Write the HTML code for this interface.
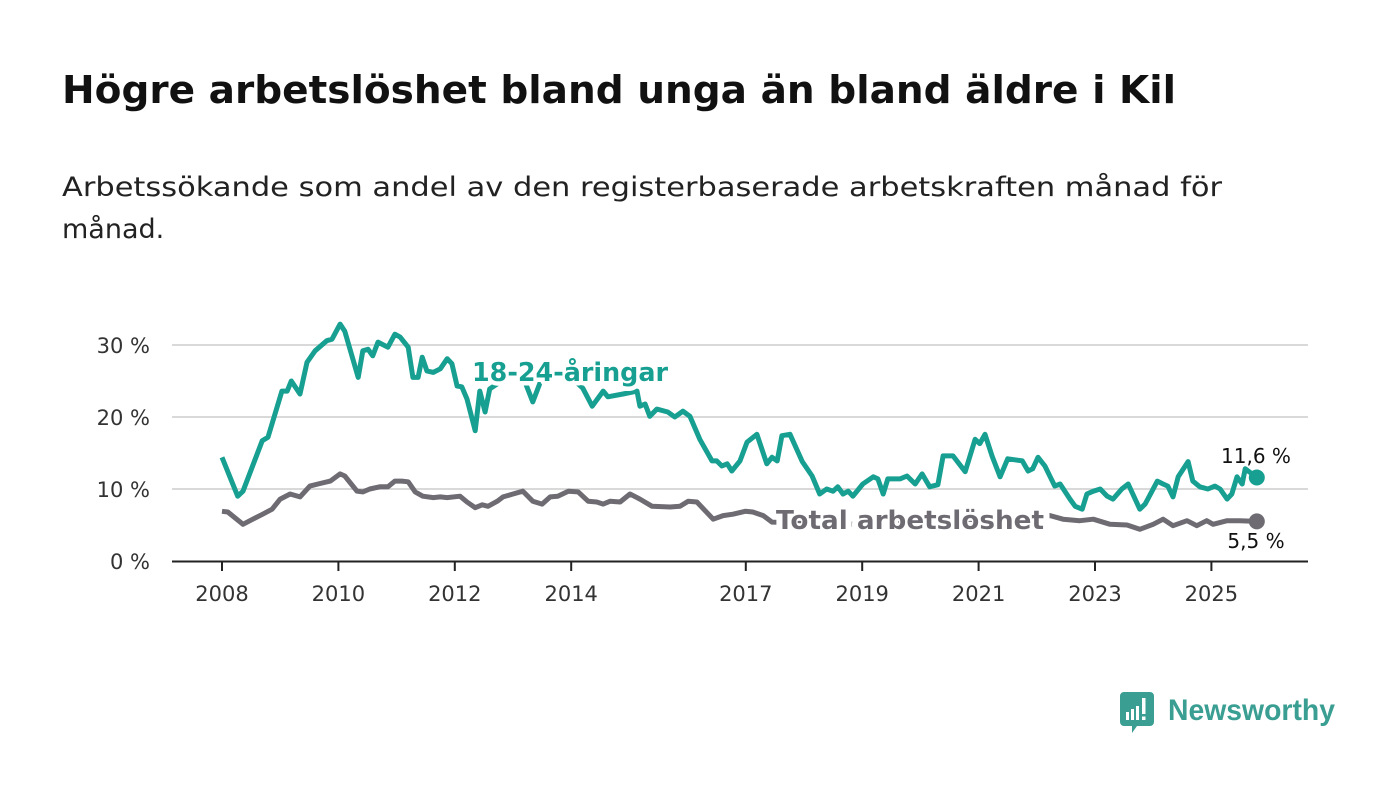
<!DOCTYPE html>
<html><head><meta charset="utf-8"><style>
html,body{margin:0;padding:0;background:#fff;}
svg{display:block;font-family:"DejaVu Sans","Liberation Sans",sans-serif;}
</style></head><body>
<svg id="chart" width="1400" height="794" viewBox="0 0 1400 794">
<text x="62" y="103" font-size="38" font-weight="bold" fill="#111" textLength="1114" lengthAdjust="spacingAndGlyphs">Högre arbetslöshet bland unga än bland äldre i Kil</text>
<text x="62" y="196" font-size="27" fill="#222" textLength="1160" lengthAdjust="spacingAndGlyphs">Arbetssökande som andel av den registerbaserade arbetskraften månad för</text>
<text x="62" y="238" font-size="27" fill="#222">månad.</text>
<g id="grid"></g>
<g id="xaxis"></g>
<g id="series"></g>
<g id="labels"></g>
<g>
<path d="M1124 692 h26 a4 4 0 0 1 4 4 v26 a4 4 0 0 1 -4 4 h-13 l-5 7 v-7 h-8 a4 4 0 0 1 -4 -4 v-26 a4 4 0 0 1 4 -4z" fill="#3a9e92"/>
<rect x="1126" y="712" width="3" height="8" fill="#fff"/><rect x="1131" y="709" width="3" height="11" fill="#fff"/><rect x="1136" y="706" width="3" height="14" fill="#fff"/><rect x="1142" y="698" width="3.5" height="16" fill="#fff"/><rect x="1142" y="716.5" width="3.5" height="3.5" fill="#fff"/>
<text x="1168" y="720" font-size="30" font-weight="bold" fill="#3a9e92" textLength="167" lengthAdjust="spacingAndGlyphs" style="font-family:'Liberation Sans',sans-serif">Newsworthy</text>
</g>
</svg>
<script>
const yTicks = [0, 10, 20, 30];
const yTickLabels = ["0 %", "10 %", "20 %", "30 %"];
const xTicks = [2008, 2010, 2012, 2014, 2017, 2019, 2021, 2023, 2025];
const youthDates = [2008.0,2008.27,2008.36,2008.69,2008.79,2009.03,2009.12,2009.19,2009.34,2009.46,2009.6,2009.8,2009.89,2010.03,2010.11,2010.34,2010.42,2010.51,2010.59,2010.68,2010.85,2010.97,2011.06,2011.2,2011.28,2011.37,2011.44,2011.52,2011.63,2011.75,2011.87,2011.95,2012.04,2012.12,2012.21,2012.35,2012.43,2012.52,2012.6,2012.8,2013.0,2013.2,2013.34,2013.5,2013.7,2014.0,2014.2,2014.36,2014.55,2014.63,2014.89,2015.13,2015.18,2015.27,2015.35,2015.47,2015.66,2015.78,2015.92,2016.04,2016.21,2016.42,2016.5,2016.59,2016.68,2016.76,2016.9,2017.02,2017.19,2017.36,2017.45,2017.54,2017.62,2017.76,2017.97,2018.14,2018.27,2018.39,2018.5,2018.58,2018.67,2018.76,2018.84,2019.01,2019.19,2019.27,2019.36,2019.44,2019.65,2019.77,2019.91,2020.03,2020.16,2020.3,2020.39,2020.56,2020.77,2020.94,2021.02,2021.11,2021.23,2021.37,2021.5,2021.75,2021.85,2021.93,2022.02,2022.14,2022.23,2022.31,2022.4,2022.57,2022.66,2022.78,2022.86,2022.97,2023.09,2023.21,2023.31,2023.46,2023.57,2023.65,2023.77,2023.86,2023.98,2024.07,2024.17,2024.25,2024.34,2024.43,2024.6,2024.68,2024.8,2024.94,2025.06,2025.15,2025.27,2025.35,2025.44,2025.53,2025.58,2025.78];
const youthValues = [14.4,9.0,9.7,16.7,17.2,23.6,23.6,25.0,23.2,27.6,29.2,30.6,30.8,32.9,31.9,25.5,29.2,29.4,28.5,30.4,29.7,31.5,31.1,29.7,25.5,25.5,28.3,26.4,26.2,26.7,28.1,27.4,24.3,24.2,22.5,18.1,23.6,20.7,23.9,25.0,26.0,25.0,22.1,25.5,26.0,25.5,24.0,21.5,23.6,22.8,23.2,23.6,21.5,21.8,20.1,21.1,20.7,20.0,20.8,20.1,16.9,13.9,13.9,13.2,13.5,12.5,13.9,16.5,17.6,13.5,14.4,13.9,17.4,17.6,13.8,11.8,9.3,10.0,9.7,10.3,9.3,9.7,9.0,10.7,11.7,11.4,9.3,11.4,11.4,11.8,10.7,12.1,10.3,10.6,14.6,14.6,12.4,16.9,16.3,17.6,14.6,11.7,14.2,13.9,12.5,12.8,14.4,13.2,11.7,10.4,10.7,8.6,7.6,7.2,9.3,9.7,10.0,9.0,8.6,10.0,10.7,9.3,7.2,7.9,9.7,11.1,10.7,10.4,8.9,11.7,13.8,11.1,10.3,10.0,10.4,10.0,8.6,9.3,11.7,10.7,12.8,11.6];
const totalDates = [2008.0,2008.1,2008.36,2008.53,2008.7,2008.86,2009.0,2009.17,2009.34,2009.51,2009.65,2009.86,2010.03,2010.11,2010.32,2010.42,2010.54,2010.71,2010.85,2010.97,2011.09,2011.2,2011.32,2011.45,2011.63,2011.75,2011.87,2012.09,2012.21,2012.35,2012.47,2012.57,2012.73,2012.83,2013.0,2013.17,2013.34,2013.5,2013.64,2013.77,2013.95,2014.12,2014.29,2014.44,2014.55,2014.67,2014.84,2015.01,2015.18,2015.39,2015.7,2015.87,2016.01,2016.16,2016.44,2016.61,2016.78,2016.99,2017.12,2017.3,2017.45,2018.0,2018.5,2019.0,2019.5,2020.0,2020.4,2020.8,2021.2,2021.6,2022.0,2022.23,2022.45,2022.74,2022.97,2023.26,2023.55,2023.77,2024.0,2024.17,2024.34,2024.58,2024.75,2024.92,2025.03,2025.27,2025.49,2025.78];
const totalValues = [6.9,6.8,5.1,5.8,6.5,7.2,8.6,9.3,8.9,10.4,10.7,11.1,12.1,11.8,9.7,9.6,10.0,10.3,10.3,11.1,11.1,11.0,9.6,9.0,8.8,8.9,8.8,9.0,8.2,7.4,7.8,7.6,8.3,8.9,9.3,9.7,8.3,7.9,8.9,9.0,9.7,9.6,8.3,8.2,7.9,8.3,8.2,9.3,8.6,7.6,7.5,7.6,8.3,8.2,5.8,6.3,6.5,6.9,6.8,6.3,5.4,5.3,5.0,5.2,5.5,5.6,5.8,5.8,5.7,5.6,5.8,6.3,5.8,5.6,5.8,5.1,5.0,4.4,5.1,5.8,4.9,5.6,4.9,5.6,5.1,5.6,5.6,5.5];

const NS = "http://www.w3.org/2000/svg";
const X0 = 172, X1 = 1308;
const xs = t => 222 + (t - 2008) * 58.2;
const ys = v => 561 - v * 7.2;
function mk(tag, attrs, parent, text) {
  const e = document.createElementNS(NS, tag);
  for (const k in attrs) e.setAttribute(k, attrs[k]);
  if (text !== undefined) e.textContent = text;
  parent.appendChild(e);
  return e;
}
const grid = document.getElementById('grid');
yTicks.forEach((v, i) => {
  if (v > 0) {
    const l = mk('line', {x1: X0, x2: X1, y1: ys(v), y2: ys(v), stroke: '#d9d9d9', 'stroke-width': 2}, grid);
    
    
  }
  const t = mk('text', {x: 150, y: ys(v) + 8, 'font-size': 21, fill: '#333', 'text-anchor': 'end'}, grid, yTickLabels[i]);
  
  
});
const xa = document.getElementById('xaxis');
const ax = mk('line', {x1: X0, x2: X1, y1: 561.5, y2: 561.5, stroke: '#222', 'stroke-width': 2}, xa);


xTicks.forEach(yr => {
  const tk = mk('line', {x1: xs(yr), x2: xs(yr), y1: 562, y2: 571, stroke: '#222', 'stroke-width': 2}, xa);
  
  
  const t = mk('text', {x: xs(yr), y: 601, 'font-size': 21, fill: '#333', 'text-anchor': 'middle'}, xa, String(yr));
  
  
});
const sg = document.getElementById('series');
function pathOf(d, v) { return d.map((t, i) => (i ? 'L' : 'M') + xs(t).toFixed(1) + ' ' + ys(v[i]).toFixed(1)).join(' '); }
const tl = mk('path', {d: pathOf(totalDates, totalValues), fill: 'none', stroke: '#6e6b72', 'stroke-width': 5, 'stroke-linejoin': 'round'}, sg);


const yl = mk('path', {d: pathOf(youthDates, youthValues), fill: 'none', stroke: '#17a091', 'stroke-width': 5, 'stroke-linejoin': 'round'}, sg);


const lt = totalDates.length - 1, ly = youthDates.length - 1;
const d1 = mk('circle', {cx: xs(totalDates[lt]), cy: ys(totalValues[lt]), r: 8, fill: '#6e6b72'}, sg);


const d2 = mk('circle', {cx: xs(youthDates[ly]), cy: ys(youthValues[ly]), r: 8, fill: '#17a091'}, sg);


const lg = document.getElementById('labels');
const s1 = mk('text', {x: 570, y: 381, 'font-size': 26, 'font-weight': 'bold', fill: '#17a091', stroke: '#fff', 'stroke-width': 9, 'paint-order': 'stroke', 'stroke-linejoin': 'round', 'text-anchor': 'middle', textLength: 196, lengthAdjust: 'spacingAndGlyphs'}, lg, '18-24-åringar');


const s2 = mk('text', {x: 910, y: 529, 'font-size': 26, 'font-weight': 'bold', fill: '#6e6b72', stroke: '#fff', 'stroke-width': 12, 'paint-order': 'stroke', 'stroke-linejoin': 'round', 'text-anchor': 'middle', textLength: 268, lengthAdjust: 'spacingAndGlyphs'}, lg, 'Total arbetslöshet');


const v1 = mk('text', {x: 1256, y: 463, 'font-size': 20, fill: '#111', 'text-anchor': 'middle'}, lg, youthValues[ly].toFixed(1).replace('.', ',') + ' %');


const v2 = mk('text', {x: 1256, y: 548, 'font-size': 20, fill: '#111', 'text-anchor': 'middle'}, lg, totalValues[lt].toFixed(1).replace('.', ',') + ' %');


</script>
</body></html>
